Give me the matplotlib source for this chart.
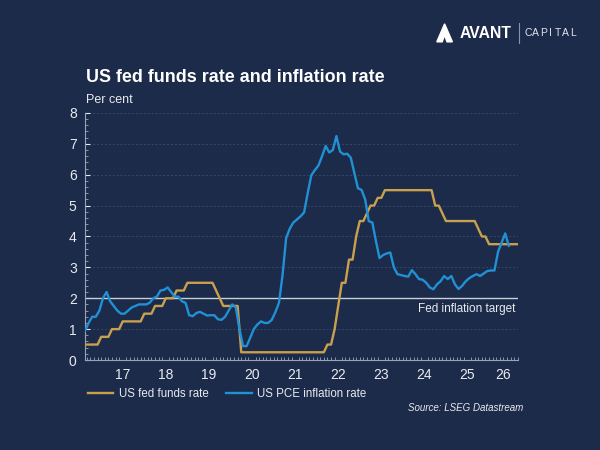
import matplotlib
matplotlib.use("Agg")
import matplotlib.pyplot as plt
import numpy as np
from matplotlib.patches import Polygon

plt.rcParams['font.family'] = ['Liberation Sans', 'DejaVu Sans']

# US PCE inflation, % y/y, monthly from Aug 2016 (plotted mid-month)
pce_start = (2016, 8)
pce = [0.95, 1.2, 1.4, 1.4, 1.6,
       2.0, 2.2, 1.9, 1.75, 1.6, 1.5, 1.5, 1.6, 1.7, 1.75, 1.8, 1.8,
       1.8, 1.85, 2.0, 2.05, 2.25, 2.27, 2.35, 2.2, 2.05, 2.05, 1.9, 1.85,
       1.45, 1.42, 1.52, 1.56, 1.5, 1.44, 1.45, 1.45, 1.32, 1.3, 1.4, 1.6,
       1.8, 1.7, 1.0, 0.45, 0.45, 0.72, 1.0, 1.15, 1.25, 1.2, 1.2, 1.3,
       1.55, 1.85, 2.75, 3.95, 4.25, 4.45, 4.55, 4.65, 4.78, 5.4, 5.98, 6.15,
       6.3, 6.6, 6.93, 6.72, 6.8, 7.25, 6.75, 6.66, 6.68, 6.55, 6.05, 5.56,
       5.51, 5.2, 4.5, 4.45, 3.85, 3.3, 3.4, 3.45, 3.48, 3.0, 2.78, 2.75,
       2.72, 2.7, 2.91, 2.78, 2.62, 2.6, 2.5, 2.35, 2.29, 2.45, 2.55, 2.72,
       2.62, 2.72, 2.45, 2.3, 2.4, 2.55, 2.65, 2.72, 2.78, 2.72, 2.8, 2.88,
       2.9, 2.9, 3.5, 3.8, 4.1, 3.7]

# US fed funds rate (upper bound), month-end values from Jul 2016
fed_start = (2016, 7)
fed = [0.5, 0.5, 0.5, 0.5, 0.5, 0.75,
       0.75, 0.75, 1.0, 1.0, 1.0, 1.25, 1.25, 1.25, 1.25, 1.25, 1.25, 1.5,
       1.5, 1.5, 1.75, 1.75, 1.75, 2.0, 2.0, 2.0, 2.25, 2.25, 2.25, 2.5,
       2.5, 2.5, 2.5, 2.5, 2.5, 2.5, 2.5, 2.25, 2.0, 1.75, 1.75, 1.75,
       1.75, 1.75, 0.25, 0.25, 0.25, 0.25, 0.25, 0.25, 0.25, 0.25, 0.25, 0.25,
       0.25, 0.25, 0.25, 0.25, 0.25, 0.25, 0.25, 0.25, 0.25, 0.25, 0.25, 0.25,
       0.25, 0.25, 0.5, 0.5, 1.0, 1.75, 2.5, 2.5, 3.25, 3.25, 4.0, 4.5,
       4.5, 4.75, 5.0, 5.0, 5.25, 5.25, 5.5, 5.5, 5.5, 5.5, 5.5, 5.5,
       5.5, 5.5, 5.5, 5.5, 5.5, 5.5, 5.5, 5.5, 5.0, 5.0, 4.75, 4.5,
       4.5, 4.5, 4.5, 4.5, 4.5, 4.5, 4.5, 4.5, 4.25, 4.0, 4.0, 3.75,
       3.75, 3.75, 3.75, 3.75, 3.75, 3.75, 3.75, 3.75]

target = 2.0
year_labels = ["17", "18", "19", "20", "21", "22", "23", "24", "25", "26"]

bg = "#1c2b4a"
gold = "#c9a04e"
blue = "#2190d4"
txt = "#e8eaee"

def month_x(start, n, offset):
    y0, m0 = start
    return np.array([y0 + (m0 - 1 + i + offset) / 12 for i in range(n)])

x_pce = month_x(pce_start, len(pce), 0.5)
x_fed = month_x(fed_start, len(fed), 1.0)

fig = plt.figure(figsize=(6, 4.5), dpi=100, facecolor=bg)
ax = fig.add_axes([0.1417, 0.2, 0.7213, 0.549])
ax.set_facecolor(bg)

for v in range(1, 9):
    if v != 2:
        ax.axhline(v, color="#34466a", lw=0.7, ls=(0, (2, 2)), zorder=1)
ax.axhline(target, color="#c9ced8", lw=1.0, zorder=2)
ax.text(2026.6, target - 0.14, "Fed inflation target", color=txt, fontsize=8.5,
        ha="right", va="top")

ax.plot(x_fed, fed, color=gold, lw=1.7, label="US fed funds rate", zorder=3)
ax.plot(x_pce, pce, color=blue, lw=1.7, label="US PCE inflation rate", zorder=4)

ax.set_xlim(2016.625, 2026.667)
ax.set_ylim(0, 8)

years = np.arange(2017, 2027)
mids = years + 0.5
mids[-1] = (2026 + 2026.667) / 2
ax.set_xticks(mids)
ax.set_xticklabels(year_labels)
ax.set_xticks(np.arange(2016 + 8 / 12, 2026.67, 1 / 12), minor=True)
ax.set_yticks(range(0, 9))
ax.set_yticks(np.arange(0, 8.01, 0.2), minor=True)

ax.tick_params(axis="x", which="major", length=0, pad=6, colors=txt, labelsize=10)
ax.tick_params(axis="x", which="minor", length=2.5, direction="in", color="#9aa3b5", width=0.6)
ax.tick_params(axis="y", which="major", length=3.5, direction="in", colors=txt, labelsize=10, pad=6)
ax.tick_params(axis="y", which="minor", length=2, direction="in", color="#9aa3b5", width=0.6)

for s in ["top", "right"]:
    ax.spines[s].set_visible(False)
for s in ["left", "bottom"]:
    ax.spines[s].set_color("#9aa3b5")
    ax.spines[s].set_linewidth(0.8)

fig.text(0.143, 0.827, "US fed funds rate and inflation rate", color="white",
         fontsize=12.9, fontweight="bold", va="center", ha="left")
fig.text(0.143, 0.778, "Per cent", color=txt, fontsize=9, va="center", ha="left")

leg = ax.legend(loc="upper left", bbox_to_anchor=(-0.017, -0.07), ncol=2, frameon=False,
                fontsize=8.3, handlelength=2.2, handletextpad=0.45, columnspacing=1.55,
                labelcolor=txt)

fig.text(0.872, 0.093, "Source: LSEG Datastream", color=txt, fontsize=7,
         style="italic", ha="right", va="center")

# logo
icon = Polygon([[0.728, 0.907], [0.741, 0.947], [0.754, 0.907], [0.745, 0.907],
                [0.741, 0.922], [0.737, 0.907]], closed=True,
               transform=fig.transFigure, color="white")
fig.patches.append(icon)
fig.text(0.766, 0.926, "AVANT", color="white", fontsize=11.3, fontweight="bold",
         va="center", ha="left")
fig.add_artist(plt.Line2D([0.865, 0.865], [0.905, 0.948], transform=fig.transFigure,
                          color="#8a93a8", lw=0.8))
for i, ch in enumerate("CAPITAL"):
    fig.text(0.881 + i * 0.0122, 0.926, ch, color="#e0e3ea", fontsize=7.5,
             va="center", ha="center")

fig.savefig("out.png", dpi=100, facecolor=bg)
